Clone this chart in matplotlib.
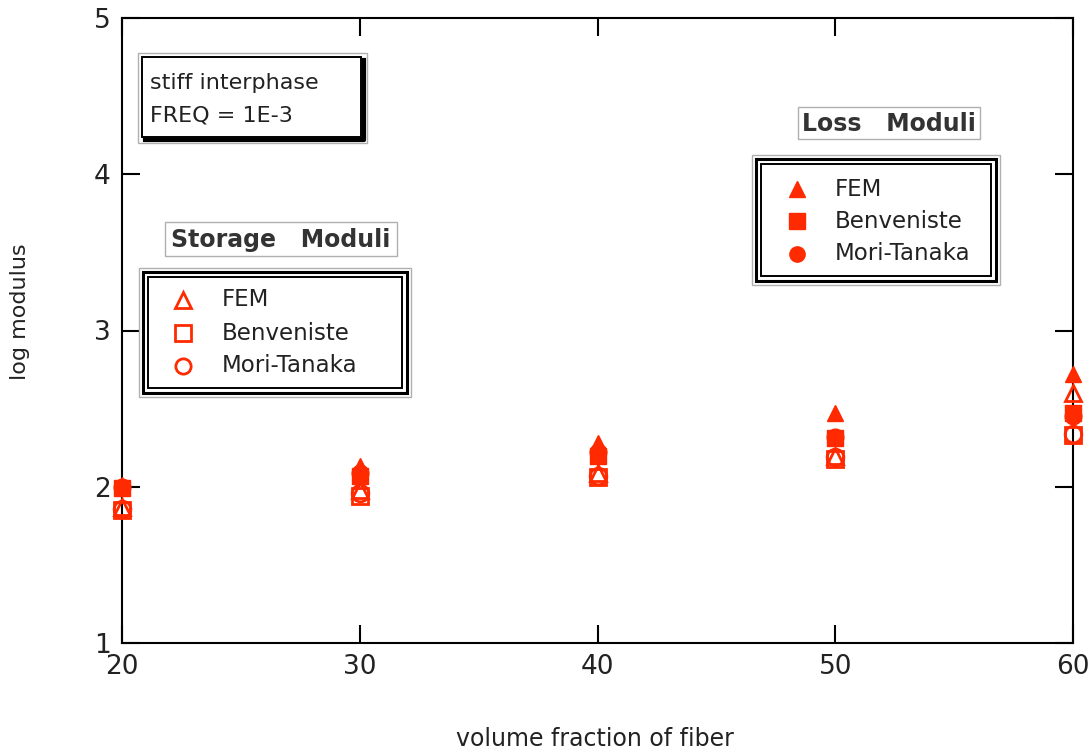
import matplotlib.pyplot as plt
from matplotlib.patches import Rectangle

plt.rcParams['font.family'] = ['DejaVu Sans']

# volume fraction of fiber (%)
vf = [20, 30, 40, 50, 60]

# loss moduli (log)
loss_fem = [2.01, 2.13, 2.28, 2.47, 2.72]
loss_benv = [1.99, 2.07, 2.20, 2.31, 2.47]
loss_mt = [2.00, 2.09, 2.22, 2.32, 2.45]

# storage moduli (log)
stor_fem = [1.87, 1.98, 2.09, 2.20, 2.60]
stor_benv = [1.85, 1.94, 2.06, 2.18, 2.33]
stor_mt = [1.86, 1.96, 2.07, 2.19, 2.34]

red = '#ff2a00'
txt = '#222222'
W, H = 1091, 755

fig = plt.figure(figsize=(W / 100, H / 100), dpi=100)
ax = fig.add_axes([122 / W, 1 - 643 / H, 951 / W, 625 / H])

ms = 12
ax.plot(vf, loss_fem, '^', color=red, ms=ms, clip_on=False, zorder=3)
ax.plot(vf, loss_benv, 's', color=red, ms=ms, clip_on=False, zorder=3)
ax.plot(vf, loss_mt, 'o', color=red, ms=ms, clip_on=False, zorder=3)
for ys, m in [(stor_fem, '^'), (stor_benv, 's'), (stor_mt, 'o')]:
    ax.plot(vf, ys, m, mfc='none', mec=red, mew=2, ms=ms, clip_on=False, zorder=4)

ax.set_xlim(20, 60)
ax.set_ylim(1, 5)
ax.set_xticks([20, 30, 40, 50, 60])
ax.set_yticks([1, 2, 3, 4, 5])
ax.tick_params(direction='in', length=13, width=1.5, labelsize=19,
               top=True, right=True, pad=8, labelcolor=txt)
for s in ax.spines.values():
    s.set_linewidth(1.5)
ax.set_xlabel('volume fraction of fiber', fontsize=17, color=txt)
ax.xaxis.set_label_coords((595 - 122) / 951, (643 - 727) / 625)
ax.set_ylabel('log modulus', fontsize=16, color=txt)
ax.yaxis.set_label_coords((30 - 122) / 951, (643 - 312) / 625)

# overlay in pixel units for the annotation boxes
ov = fig.add_axes([0, 0, 1, 1], zorder=5)
ov.set_xlim(0, W)
ov.set_ylim(H, 0)
ov.axis('off')


def rect(x0, y0, x1, y1, **kw):
    ov.add_patch(Rectangle((x0, y0), x1 - x0, y1 - y0, fill=False, **kw))


def legend_box(x0, y0, x1, y1):
    ov.add_patch(Rectangle((x0, y0), x1 - x0, y1 - y0, fc='white', ec='#b0b0b0', lw=1))
    rect(x0 + 4, y0 + 4, x1 - 4, y1 - 4, ec='black', lw=2.2)
    rect(x0 + 9, y0 + 9, x1 - 9, y1 - 9, ec='black', lw=1.4)


def title_box(x0, y0, x1, y1, text):
    ov.add_patch(Rectangle((x0, y0), x1 - x0, y1 - y0, fc='white', ec='#b0b0b0', lw=1))
    ov.text((x0 + x1) / 2, (y0 + y1) / 2 + 1, text, ha='center', va='center',
            fontsize=17, fontweight='bold', color='#333333')


# stiff interphase note
ov.add_patch(Rectangle((138, 53), 229, 90, fc='white', ec='#b0b0b0', lw=1))
ov.plot([145, 364, 364], [140, 140, 60], color='black', lw=3)
rect(142, 57, 361, 137, ec='black', lw=1.4)
ov.text(150, 83, 'stiff interphase', fontsize=16, va='center', color=txt)
ov.text(150, 115, 'FREQ = 1E-3', fontsize=16, va='center', color=txt)

# storage legend
title_box(165, 222, 397, 256, 'Storage   Moduli')
legend_box(139, 268, 411, 397)
labels = ['FEM', 'Benveniste', 'Mori-Tanaka']
for yy, m, lab in zip([300, 333, 366], ['^', 's', 'o'], labels):
    ov.plot(183, yy, m, mfc='none', mec=red, mew=2, ms=11)
    ov.text(222, yy, lab, fontsize=16.5, va='center', color=txt)

# loss legend
title_box(798, 107, 980, 139, 'Loss   Moduli')
legend_box(752, 155, 1000, 285)
for yy, m, lab in zip([189, 221, 254], ['^', 's', 'o'], labels):
    ov.plot(797, yy, m, color=red, ms=11)
    ov.text(835, yy, lab, fontsize=16.5, va='center', color=txt)

fig.savefig('out.png', dpi=100)
